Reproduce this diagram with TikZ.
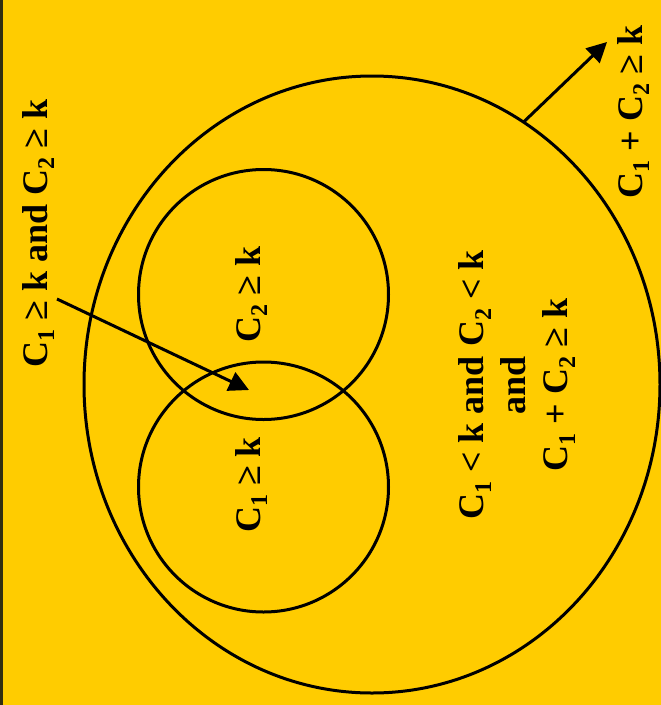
\documentclass[tikz,border=0pt]{standalone}
\usepackage{fontspec}
\setmainfont{Liberation Serif}
\usetikzlibrary{arrows.meta,shapes.geometric}
\definecolor{vennYellow}{HTML}{FFCC00}
\definecolor{vennEdge}{HTML}{332E0F}
\newcommand{\sbs}[1]{\raisebox{-0.2em}{\fontsize{24}{24}\selectfont #1}}
\tikzset{
  % Set outlines: plain black rings, no fill.
  venn/set/.style={
    draw=black, line width=3pt, inner sep=0pt, outer sep=0pt
  },
  venn/ring/.style={
    venn/set, circle, minimum size=250pt
  },
  % Labels run bottom to top, bold serif.
  venn/label/.style={
    rotate=90, font=\fontsize{36}{42}\selectfont\bfseries,
    inner sep=0pt, text=black, align=center
  },
  venn/arrow/.style={
    -{Triangle[length=20pt,width=20pt]}, line width=3pt, draw=black
  },
}
\begin{document}
\begin{tikzpicture}[x=1pt,y=-1pt]
  \fill[vennYellow] (0,0) rectangle (661,705);
  \useasboundingbox (0,0) rectangle (661,705);
  \draw[vennEdge, line width=3pt] (1.5,0) -- (1.5,705);
  % the three sets
  \node[venn/set, ellipse, minimum width=576pt, minimum height=617pt] (sum) at (372,384.5) {};
  \node[venn/ring] (ctwo) at (263.5,294.5) {};
  \node[venn/ring] (cone) at (263.5,487) {};
  % labels
  \node[venn/label, anchor=base] (lboth) at (47,233.5) {C\sbs{1} ≥ k and C\sbs{2} ≥ k};
  \node[venn/label, anchor=base] (ltwo) at (260,294.5) {C\sbs{2} ≥ k};
  \node[venn/label, anchor=base] (lone) at (260,485) {C\sbs{1} ≥ k};
  \node[venn/label] (lrest) at (517,385) {C\sbs{1} < k and C\sbs{2} < k\\and\\C\sbs{1} + C\sbs{2} ≥ k};
  \node[venn/label, anchor=base] (lsum) at (642,112) {C\sbs{1} + C\sbs{2} ≥ k};
  % pointers
  \coordinate (bothTail) at (57,299);
  \coordinate (bothTip) at (249,390);
  \coordinate (sumTip) at (607,42);
  \draw[venn/arrow] (bothTail) -- (bothTip);
  \draw[venn/arrow] (sum.60) -- (sumTip);
\end{tikzpicture}
\end{document}
